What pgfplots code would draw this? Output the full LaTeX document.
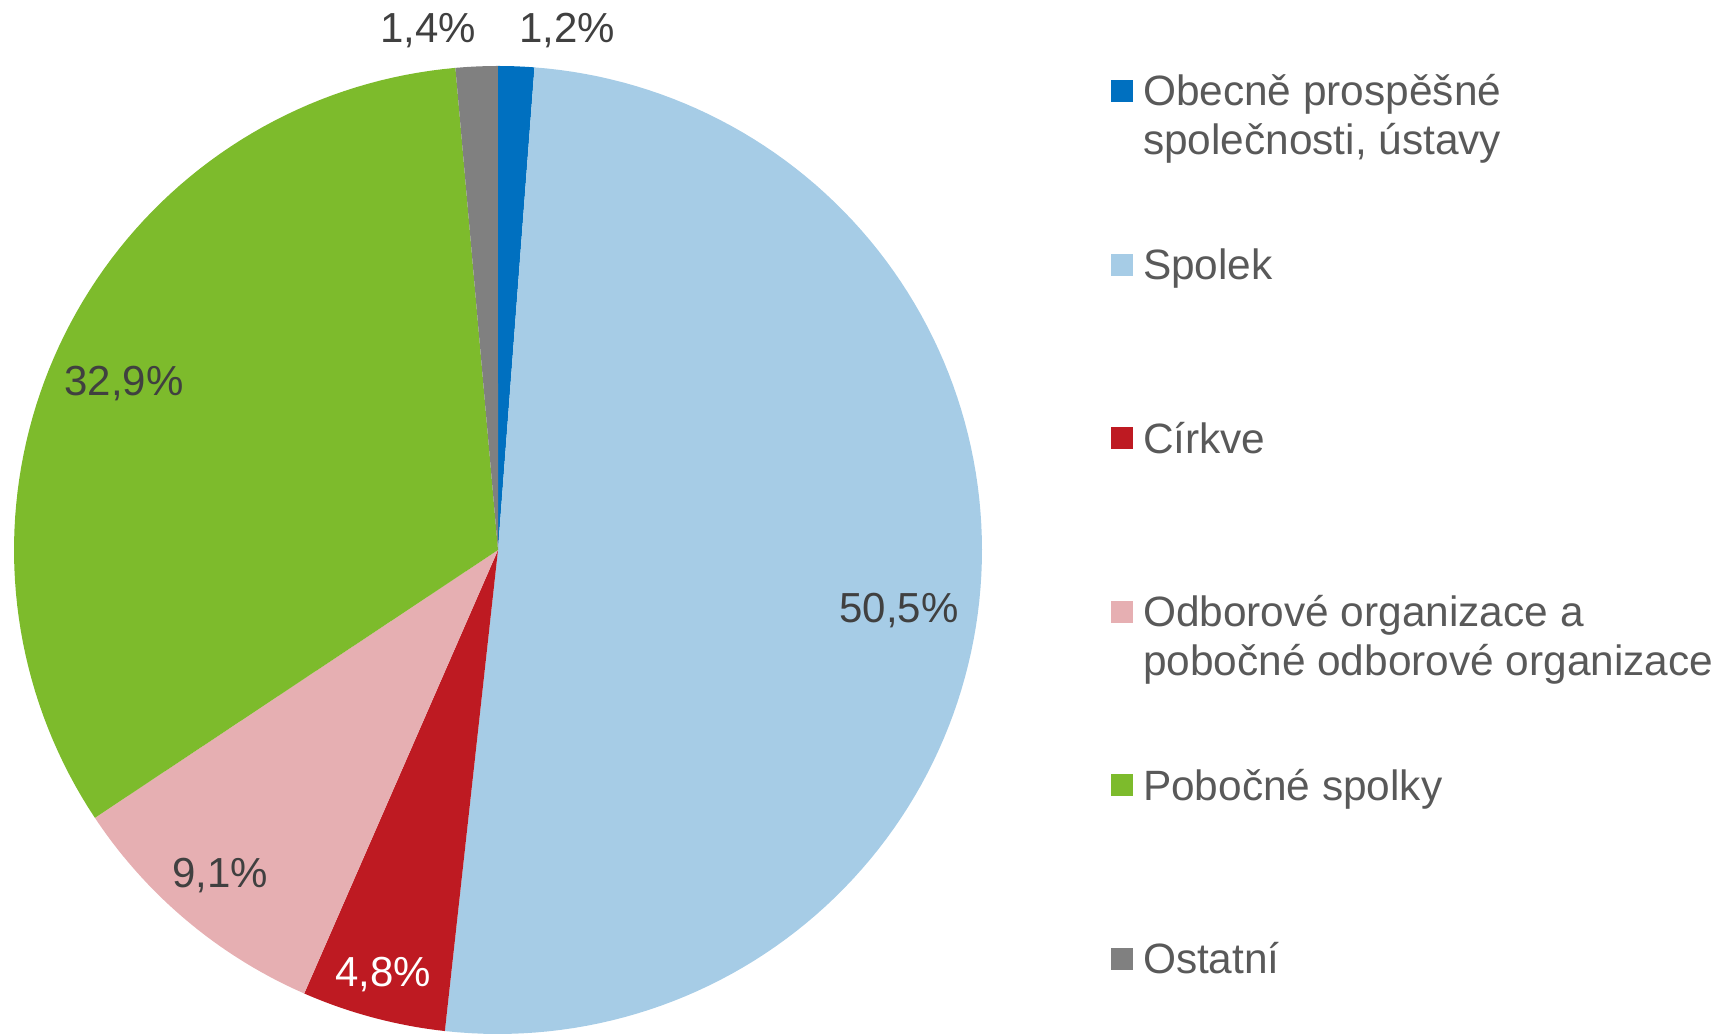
\documentclass[border=0pt]{standalone}
\usepackage{fontspec}
\setmainfont{Liberation Sans}
\usepackage{pgfplots}
\pgfplotsset{compat=1.18}

\definecolor{cOps}{HTML}{0070C0}
\definecolor{cSpolek}{HTML}{A6CCE6}
\definecolor{cCirkve}{HTML}{BE1A22}
\definecolor{cOdbor}{HTML}{E6AFB2}
\definecolor{cPobocne}{HTML}{7DBB2C}
\definecolor{cOstatni}{HTML}{808080}
\definecolor{lbl}{HTML}{404040}
\definecolor{legtxt}{HTML}{595959}

% shares in percent (clockwise from 12 o'clock)
\def\vA{1.2}  % Obecne prospesne spolecnosti
\def\vB{50.5} % Spolek
\def\vC{4.8}  % Cirkve
\def\vD{9.1}  % Odborove organizace
\def\vE{32.9} % Pobocne spolky
\def\vF{1.4}  % Ostatni
\pgfmathsetmacro\tot{(\vA+\vB+\vC+\vD+\vE+\vF)/100}
\pgfmathsetmacro\aA{90}
\pgfmathsetmacro\aB{\aA-3.6*\vA/\tot}
\pgfmathsetmacro\aC{\aB-3.6*\vB/\tot}
\pgfmathsetmacro\aD{\aC-3.6*\vC/\tot}
\pgfmathsetmacro\aE{\aD-3.6*\vD/\tot}
\pgfmathsetmacro\aF{\aE-3.6*\vE/\tot}
\pgfmathsetmacro\aG{\aF-3.6*\vF/\tot}

\def\cx{498}
\def\cy{485}
\def\R{484}

\newcommand{\legtext}[1]{\parbox[t]{144.5pt}{#1}}

\begin{document}
\begin{tikzpicture}
\begin{axis}[
  scale only axis, width=430.5pt, height=258.75pt,
  xmin=0, xmax=1722, ymin=0, ymax=1035,
  hide axis, clip=false,
  legend image code/.code={\fill[#1,draw=none] (0pt,1pt) rectangle (5.5pt,6.5pt);},
  legend style={at={(axis cs:1111,969)}, anchor=north west, draw=none, fill=none,
    inner sep=0pt, outer sep=0pt, row sep=30.4pt, column sep=2.5pt,
    cells={anchor=base west},
    nodes={inner sep=0pt, outer sep=0pt, text=legtxt,
      text height=10pt, text depth=3pt,
      font=\fontsize{10.6}{12.25}\selectfont}},
]
% keep the page as large as the axis box
\path (axis cs:0,0) rectangle (axis cs:1722,1035);

\addplot[fill=cOps, draw=none, domain=\aB:\aA, samples=10, variable=\t]
  ({\cx+\R*cos(t)},{\cy+\R*sin(t)}) -- (axis cs:\cx,\cy) -- cycle;
\addlegendentry{\legtext{Obecně prospěšné\\společnosti, ústavy}}
\addplot[fill=cSpolek, draw=none, domain=\aC:\aB, samples=120, variable=\t]
  ({\cx+\R*cos(t)},{\cy+\R*sin(t)}) -- (axis cs:\cx,\cy) -- cycle;
\addlegendentry{\legtext{Spolek}}
\addplot[fill=cCirkve, draw=none, domain=\aD:\aC, samples=20, variable=\t]
  ({\cx+\R*cos(t)},{\cy+\R*sin(t)}) -- (axis cs:\cx,\cy) -- cycle;
\addlegendentry{\legtext{Církve}}
\addplot[fill=cOdbor, draw=none, domain=\aE:\aD, samples=30, variable=\t]
  ({\cx+\R*cos(t)},{\cy+\R*sin(t)}) -- (axis cs:\cx,\cy) -- cycle;
\addlegendentry{\legtext{Odborové organizace a\\pobočné odborové organizace}}
\addplot[fill=cPobocne, draw=none, domain=\aF:\aE, samples=80, variable=\t]
  ({\cx+\R*cos(t)},{\cy+\R*sin(t)}) -- (axis cs:\cx,\cy) -- cycle;
\addlegendentry{\legtext{Pobočné spolky}}
\addplot[fill=cOstatni, draw=none, domain=\aG:\aF, samples=10, variable=\t]
  ({\cx+\R*cos(t)},{\cy+\R*sin(t)}) -- (axis cs:\cx,\cy) -- cycle;
\addlegendentry{\legtext{Ostatní}}

\begin{scope}[every node/.style={font=\fontsize{10.5}{12}\selectfont, text=lbl, inner sep=0pt}]
\node at (axis cs:567,1004) {1,2\%};
\node at (axis cs:428,1004) {1,4\%};
\node at (axis cs:899,424) {50,5\%};
\node[text=white] at (axis cs:383,60) {4,8\%};
\node at (axis cs:220,159) {9,1\%};
\node at (axis cs:124,651) {32,9\%};
\end{scope}
\end{axis}
\end{tikzpicture}
\end{document}
